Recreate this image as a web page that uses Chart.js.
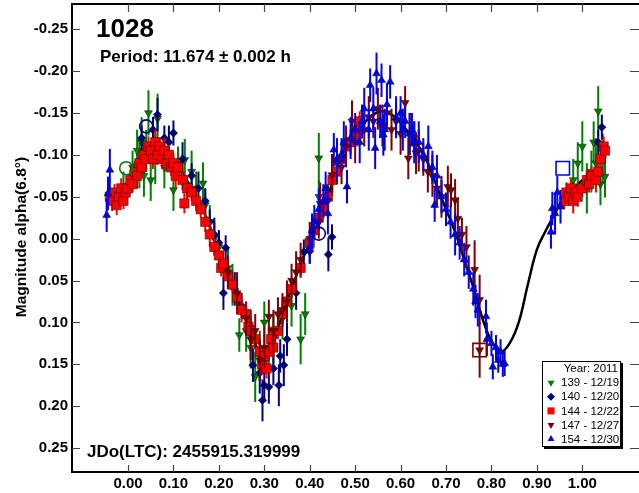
<!DOCTYPE html>
<html>
<head>
<meta charset="utf-8">
<title>1028 lightcurve</title>
<script src="https://cdn.jsdelivr.net/npm/chart.js@4.4.0/dist/chart.umd.min.js"></script>
<style>
  html, body { margin: 0; padding: 0; background: #fff; }
  canvas { display: block; }
</style>
</head>
<body>
<canvas id="lc" width="639" height="493"></canvas>
<script>
// session 139 - 12/19
const phase139 = [-0.01, 0.01, 0.02, 0.025, 0.03, 0.035, 0.04, 0.045, 0.05, 0.06, 0.065, 0.08, 0.09, 0.10, 0.11, 0.125, 0.14, 0.15, 0.165, 0.17, 0.18, 0.19, 0.20, 0.22, 0.23, 0.245, 0.26, 0.27, 0.28, 0.29, 0.30, 0.31, 0.32, 0.34, 0.36, 0.38, 0.39, 0.42, 0.42, 0.98, 0.99, 1.00, 1.01, 1.02, 1.025, 1.03, 1.035, 1.04, 1.045, 1.05];
const mag139 = [-0.06, -0.085, -0.105, -0.09, -0.115, -0.075, -0.11, -0.15, -0.07, -0.095, -0.143, -0.085, -0.10, -0.058, -0.09, -0.094, -0.08, -0.06, -0.066, -0.04, -0.02, 0.0, 0.01, 0.035, 0.055, 0.115, 0.11, 0.13, 0.165, 0.14, 0.10, 0.13, 0.12, 0.095, 0.08, 0.12, 0.09, -0.096, -0.05, -0.07, -0.09, -0.11, -0.06, -0.08, -0.115, -0.09, -0.152, -0.065, -0.095, -0.074];
const err139 = [0.02, 0.02, 0.025, 0.03, 0.03, 0.025, 0.02, 0.027, 0.025, 0.03, 0.03, 0.025, 0.02, 0.025, 0.02, 0.025, 0.025, 0.02, 0.025, 0.02, 0.02, 0.02, 0.02, 0.025, 0.025, 0.02, 0.025, 0.025, 0.03, 0.03, 0.025, 0.025, 0.03, 0.025, 0.025, 0.03, 0.025, 0.03, 0.02, 0.025, 0.025, 0.03, 0.03, 0.025, 0.025, 0.03, 0.03, 0.025, 0.03, 0.025];

// session 140 - 12/20
const phase140 = [0.03, 0.055, 0.065, 0.08, 0.09, 0.10, 0.12, 0.14, 0.155, 0.17, 0.18, 0.19, 0.20, 0.21, 0.215, 0.235, 0.25, 0.27, 0.275, 0.29, 0.296, 0.30, 0.31, 0.32, 0.332, 0.335, 0.343, 0.35, 0.37, 0.387, 0.40, 0.441, 0.449, 1.035, 1.043];
const mag140 = [-0.12, -0.13, -0.148, -0.12, -0.115, -0.126, -0.095, -0.075, -0.06, -0.045, -0.02, -0.005, 0.005, 0.065, 0.011, 0.06, 0.08, 0.105, 0.151, 0.16, 0.193, 0.175, 0.177, 0.155, 0.175, 0.14, 0.151, 0.12, 0.065, 0.016, 0.015, 0.019, -0.002, -0.115, -0.133];
const err140 = [0.015, 0.015, 0.02, 0.015, 0.02, 0.015, 0.02, 0.015, 0.02, 0.015, 0.015, 0.02, 0.015, 0.02, 0.015, 0.02, 0.015, 0.02, 0.02, 0.025, 0.025, 0.02, 0.02, 0.02, 0.025, 0.02, 0.025, 0.02, 0.02, 0.015, 0.015, 0.02, 0.015, 0.015, 0.015];

// session 144 - 12/22
const phase144 = [-0.04, -0.035, -0.03, -0.025, -0.02, -0.015, -0.01, -0.005, 0.0, 0.005,
  0.01, 0.015, 0.02, 0.025, 0.03, 0.035, 0.04, 0.045, 0.05, 0.055,
  0.06, 0.065, 0.07, 0.075, 0.08, 0.085, 0.09, 0.095, 0.10, 0.105,
  0.11, 0.12, 0.124, 0.13, 0.14, 0.15, 0.16, 0.17, 0.18, 0.19,
  0.20, 0.205, 0.21, 0.22, 0.23, 0.24, 0.25, 0.26, 0.265, 0.27,
  0.28, 0.29, 0.295, 0.30, 0.305, 0.31, 0.315, 0.32, 0.33, 0.34,
  0.35, 0.36, 0.38, 0.40, 0.41, 0.42, 0.43, 0.44, 0.45, 0.46,
  0.47, 0.48, 0.49, 0.50, 0.505, 0.51,
  0.96, 0.965, 0.97, 0.975, 0.98, 0.985, 0.99, 1.00, 1.01, 1.015, 1.02, 1.03, 1.035, 1.04, 1.047, 1.05];
const mag144 = [-0.05, -0.045, -0.055, -0.04, -0.05, -0.06, -0.045, -0.055, -0.06, -0.07,
  -0.065, -0.08, -0.075, -0.09, -0.085, -0.10, -0.095, -0.11, -0.105, -0.095,
  -0.115, -0.10, -0.11, -0.095, -0.105, -0.09, -0.10, -0.085, -0.09, -0.075,
  -0.085, -0.07, -0.042, -0.06, -0.055, -0.045, -0.035, -0.02, -0.005, 0.01,
  0.02, 0.035, 0.03, 0.045, 0.055, 0.07, 0.085, 0.09, 0.105, 0.11,
  0.12, 0.135, 0.15, 0.14, 0.155, 0.135, 0.12, 0.13, 0.11, 0.09,
  0.075, 0.06, 0.035, 0.005, -0.01, -0.025, -0.035, -0.05, -0.07, -0.08,
  -0.095, -0.11, -0.115, -0.13, -0.125, -0.14,
  -0.045, -0.055, -0.05, -0.06, -0.045, -0.055, -0.05, -0.06, -0.07, -0.065, -0.075, -0.07, -0.08, -0.095, -0.11, -0.105];
const err144 = [0.010, 0.012, 0.010, 0.012, 0.010, 0.012, 0.010, 0.012, 0.010, 0.012,
  0.010, 0.012, 0.015, 0.010, 0.012, 0.010, 0.015, 0.012, 0.010, 0.012,
  0.015, 0.012, 0.010, 0.012, 0.015, 0.010, 0.012, 0.010, 0.012, 0.015,
  0.010, 0.012, 0.012, 0.015, 0.010, 0.012, 0.010, 0.012, 0.015, 0.010,
  0.012, 0.010, 0.015, 0.012, 0.010, 0.012, 0.015, 0.010, 0.012, 0.015,
  0.012, 0.015, 0.012, 0.015, 0.012, 0.010, 0.015, 0.012, 0.010, 0.012,
  0.015, 0.010, 0.012, 0.010, 0.012, 0.015, 0.010, 0.012, 0.015, 0.012,
  0.010, 0.012, 0.015, 0.012, 0.015, 0.012,
  0.010, 0.012, 0.010, 0.012, 0.015, 0.010, 0.012, 0.010, 0.012, 0.010, 0.012, 0.015, 0.010, 0.012, 0.012, 0.010];

// session 147 - 12/27
const phase147 = [0.22, 0.24, 0.26, 0.27, 0.28, 0.29, 0.30, 0.31, 0.32, 0.33,
  0.34, 0.35, 0.36, 0.37, 0.38, 0.40, 0.42, 0.423, 0.44, 0.449,
  0.46, 0.47, 0.48, 0.493, 0.50, 0.52, 0.53, 0.54, 0.55, 0.56,
  0.57, 0.58, 0.59, 0.60, 0.61, 0.617, 0.62, 0.63, 0.634, 0.64,
  0.65, 0.66, 0.67, 0.68, 0.69, 0.704, 0.711, 0.72, 0.726, 0.735,
  0.745, 0.763, 0.774, 0.774];
const mag147 = [0.04, 0.065, 0.095, 0.12, 0.11, 0.145, 0.13, 0.093, 0.11, 0.09,
  0.085, 0.075, 0.05, 0.04, 0.025, 0.0, -0.02, -0.042, -0.045, -0.076,
  -0.09, -0.085, -0.11, -0.14, -0.115, -0.13, -0.145, -0.14, -0.155, -0.135,
  -0.15, -0.13, -0.14, -0.125, -0.162, -0.096, -0.125, -0.12, -0.102, -0.105,
  -0.095, -0.08, -0.075, -0.06, -0.05, -0.062, -0.058, -0.046, -0.024, -0.005,
  0.01, 0.037, 0.073, 0.133];
const err147 = [0.02, 0.025, 0.02, 0.025, 0.02, 0.025, 0.025, 0.02, 0.025, 0.02,
  0.02, 0.025, 0.02, 0.025, 0.02, 0.02, 0.02, 0.025, 0.02, 0.025,
  0.025, 0.02, 0.025, 0.025, 0.025, 0.02, 0.025, 0.02, 0.025, 0.025,
  0.02, 0.025, 0.02, 0.025, 0.02, 0.025, 0.025, 0.02, 0.025, 0.025,
  0.02, 0.025, 0.025, 0.02, 0.025, 0.025, 0.02, 0.025, 0.025, 0.02,
  0.025, 0.035, 0.03, 0.033];

// session 154 - 12/30
const phase154 = [-0.047, -0.044, -0.04, 0.40, 0.405, 0.41, 0.42, 0.43, 0.435, 0.44,
  0.453, 0.46, 0.47, 0.475, 0.482, 0.49, 0.50, 0.51, 0.515, 0.52,
  0.53, 0.533, 0.54, 0.544, 0.547, 0.555, 0.558, 0.562, 0.565, 0.57,
  0.577, 0.59, 0.60, 0.605, 0.61, 0.62, 0.625, 0.63, 0.64, 0.65,
  0.661, 0.67, 0.675, 0.68, 0.69, 0.70, 0.71, 0.72, 0.73, 0.74,
  0.75, 0.76, 0.765, 0.77, 0.788, 0.79, 0.80, 0.803, 0.81, 0.815,
  0.82, 0.825, 0.829, 0.931, 0.934, 0.94, 0.945, 0.952];
const mag154 = [-0.028, -0.054, -0.082, 0.01, -0.01, -0.02, -0.035, -0.045, -0.06, -0.03,
  -0.106, -0.095, -0.10, -0.115, -0.062, -0.12, -0.13, -0.115, -0.14, -0.155,
  -0.13, -0.183, -0.155, -0.108, -0.197, -0.14, -0.189, -0.124, -0.13, -0.16,
  -0.187, -0.145, -0.15, -0.13, -0.14, -0.125, -0.13, -0.115, -0.115, -0.10,
  -0.11, -0.085, -0.04, -0.075, -0.05, -0.035, -0.02, -0.005, 0.005, 0.025,
  0.04, 0.06, 0.075, 0.085, 0.093, 0.12, 0.125, 0.153, 0.13, 0.145,
  0.135, 0.15, 0.149, -0.008, -0.036, -0.03, -0.055, -0.038];
const err154 = [0.02, 0.02, 0.025, 0.02, 0.02, 0.02, 0.025, 0.02, 0.02, 0.025,
  0.02, 0.025, 0.02, 0.025, 0.02, 0.025, 0.02, 0.025, 0.02, 0.025,
  0.025, 0.02, 0.025, 0.025, 0.025, 0.02, 0.02, 0.025, 0.025, 0.025,
  0.02, 0.025, 0.02, 0.025, 0.02, 0.025, 0.02, 0.025, 0.025, 0.02,
  0.025, 0.02, 0.02, 0.025, 0.02, 0.02, 0.02, 0.025, 0.02, 0.02,
  0.02, 0.02, 0.02, 0.02, 0.02, 0.02, 0.015, 0.015, 0.015, 0.015,
  0.015, 0.015, 0.015, 0.02, 0.02, 0.025, 0.02, 0.02];

// Fourier fit
const fitPhase = [0.00, 0.02, 0.04, 0.06, 0.08, 0.10, 0.12, 0.14, 0.16, 0.18, 0.20, 0.22, 0.24, 0.26, 0.28, 0.30, 0.32, 0.34, 0.36, 0.38, 0.40, 0.42, 0.44, 0.46, 0.48, 0.50, 0.52, 0.54, 0.56, 0.58, 0.60, 0.62, 0.64, 0.66, 0.68, 0.70, 0.72, 0.74, 0.76, 0.78, 0.80, 0.82, 0.84, 0.86, 0.88, 0.90, 0.92, 0.94, 0.96, 0.98, 1.00];
const fitMag = [-0.07, -0.095, -0.108, -0.112, -0.105, -0.095, -0.078, -0.06, -0.04, -0.015, 0.018, 0.045, 0.072, 0.098, 0.125, 0.148, 0.125, 0.09, 0.06, 0.03, 0.005, -0.02, -0.05, -0.085, -0.11, -0.125, -0.138, -0.148, -0.152, -0.148, -0.138, -0.125, -0.11, -0.09, -0.062, -0.035, -0.008, 0.025, 0.058, 0.095, 0.122, 0.135, 0.125, 0.1, 0.055, 0.013, -0.01, -0.03, -0.05, -0.06, -0.07];

// first points of sessions (open markers), session index into sessions below
const startPhase = [-0.004, 0.04, 0.42, 0.774, 0.957];
const startMag = [-0.084, -0.134, -0.006, 0.133, -0.084];
const startSession = [0, 1, 1, 3, 4];

const sessionLabels = ['139 - 12/19', '140 - 12/20', '144 - 12/22', '147 - 12/27', '154 - 12/30'];
const xTicks = [0, 0.1, 0.2, 0.3, 0.4, 0.5, 0.6, 0.7, 0.8, 0.9, 1.0];
const yTicks = [-0.25, -0.2, -0.15, -0.1, -0.05, 0, 0.05, 0.1, 0.15, 0.2, 0.25];

const FONT = '"Liberation Sans", Arial, sans-serif';

const sessions = [
  { p: phase139, m: mag139, e: err139, color: '#008000', style: 'triangle', rot: 180, r: 4.6, order: 5 },
  { p: phase140, m: mag140, e: err140, color: '#000080', style: 'rectRot', rot: 0, r: 4.2, order: 4 },
  { p: phase144, m: mag144, e: err144, color: '#ff0000', style: 'rect', rot: 0, r: 6.6, order: 3 },
  { p: phase147, m: mag147, e: err147, color: '#800000', style: 'triangle', rot: 180, r: 4.6, order: 2 },
  { p: phase154, m: mag154, e: err154, color: '#0000ff', style: 'triangle', rot: 0, r: 4.6, order: 1 }
];

const datasets = sessions.map((s, i) => ({
  label: sessionLabels[i],
  data: s.p.map((x, j) => ({ x: x, y: s.m[j] })),
  errors: s.e,
  backgroundColor: s.color,
  borderColor: 'rgba(0,0,0,0.55)',
  borderWidth: 0.8,
  pointStyle: s.style,
  pointRotation: s.rot,
  pointRadius: s.r,
  order: s.order
}));

datasets.push({
  label: 'fit',
  type: 'line',
  data: fitPhase.map((x, j) => ({ x: x, y: fitMag[j] })),
  borderColor: '#000',
  borderWidth: 2.5,
  pointRadius: 0,
  tension: 0.4,
  fill: false,
  order: 10
});

datasets.push({
  label: 'start',
  data: startPhase.map((x, j) => ({ x: x, y: startMag[j] })),
  backgroundColor: 'rgba(0,0,0,0)',
  borderColor: startSession.map(k => sessions[k].color),
  borderWidth: 1.6,
  pointStyle: startSession.map(k => k < 2 ? 'circle' : 'rect'),
  pointRadius: startSession.map(k => k < 2 ? 6.5 : 9.5),
  order: 0
});

const errorBars = {
  id: 'errorBars',
  beforeDatasetDraw(chart, args) {
    const ds = chart.data.datasets[args.index];
    if (!ds.errors) return;
    const { ctx, chartArea: a } = chart;
    const y = chart.scales.y;
    ctx.save();
    ctx.beginPath();
    ctx.rect(a.left, a.top, a.right - a.left, a.bottom - a.top);
    ctx.clip();
    ctx.strokeStyle = ds.backgroundColor;
    ctx.lineWidth = 2;
    args.meta.data.forEach((pt, i) => {
      const v = ds.data[i].y, e = ds.errors[i] || 0;
      ctx.beginPath();
      ctx.moveTo(pt.x, y.getPixelForValue(v - e));
      ctx.lineTo(pt.x, y.getPixelForValue(v + e));
      ctx.stroke();
    });
    ctx.restore();
  }
};

const decor = {
  id: 'decor',
  afterDraw(chart) {
    const { ctx, chartArea: a, scales: { x, y } } = chart;
    ctx.save();
    // frame
    ctx.strokeStyle = '#000';
    ctx.lineWidth = 2;
    ctx.beginPath();
    ctx.moveTo(a.right + 2, a.top);
    ctx.lineTo(a.left, a.top);
    ctx.lineTo(a.left, a.bottom);
    ctx.lineTo(a.right + 2, a.bottom);
    ctx.stroke();
    // inward ticks
    ctx.strokeStyle = '#444';
    ctx.lineWidth = 1.2;
    ctx.beginPath();
    xTicks.forEach(v => {
      const px = Math.round(x.getPixelForValue(v)) + 0.5;
      ctx.moveTo(px, a.top); ctx.lineTo(px, a.top + 8);
      ctx.moveTo(px, a.bottom); ctx.lineTo(px, a.bottom - 7);
    });
    yTicks.forEach(v => {
      const py = Math.round(y.getPixelForValue(v)) + 0.5;
      ctx.moveTo(a.left, py); ctx.lineTo(a.left + 8, py);
      ctx.moveTo(a.right, py); ctx.lineTo(a.right - 9, py);
    });
    ctx.stroke();

    // texts
    ctx.fillStyle = '#000';
    ctx.textAlign = 'left';
    ctx.textBaseline = 'alphabetic';
    ctx.font = 'bold 26px ' + FONT;
    ctx.fillText('1028', 96, 37);
    ctx.font = 'bold 17px ' + FONT;
    ctx.fillText('Period: 11.674 \u00b1 0.002 h', 100, 62);
    ctx.fillText('JDo(LTC): 2455915.319999', 87, 457);

    // y title
    ctx.save();
    ctx.translate(26, 237);
    ctx.rotate(-Math.PI / 2);
    ctx.textAlign = 'center';
    ctx.font = 'bold 15.5px ' + FONT;
    ctx.fillText('Magnitude alpha(6.8\u00b0)', 0, 0);
    ctx.restore();

    // legend box
    const L = 542, T = 361, W = 79, H = 86;
    ctx.fillStyle = '#000';
    ctx.fillRect(L + 2, T + 2, W, H);
    ctx.fillStyle = '#fff';
    ctx.fillRect(L, T, W, H);
    ctx.strokeStyle = '#000';
    ctx.lineWidth = 1;
    ctx.strokeRect(L + 0.5, T + 0.5, W - 1, H - 1);
    ctx.fillStyle = '#000';
    ctx.font = '11.5px ' + FONT;
    ctx.textBaseline = 'middle';
    ctx.textAlign = 'right';
    ctx.fillText('Year: 2011', 618, 368.5);
    ctx.textAlign = 'left';
    sessions.forEach((s, i) => {
      const ry = 382.7 + i * 14.1;
      ctx.fillStyle = s.color;
      ctx.strokeStyle = s.color;
      Chart.helpers.drawPoint(ctx, { pointStyle: s.style, radius: s.style === 'rect' ? 5 : 4, rotation: s.rot, borderWidth: 0 }, 551, ry);
      ctx.fillStyle = '#000';
      ctx.fillText(sessionLabels[i], 561, ry + 0.5);
    });
    ctx.restore();
  }
};

new Chart(document.getElementById('lc'), {
  type: 'scatter',
  data: { datasets: datasets },
  options: {
    responsive: false,
    animation: false,
    layout: { autoPadding: false, padding: { top: 4, right: -3, left: 0, bottom: 0 } },
    plugins: {
      legend: { display: false },
      tooltip: { enabled: false }
    },
    scales: {
      x: {
        type: 'linear',
        min: -0.1233,
        max: 1.1248,
        grid: { display: false, drawTicks: false },
        border: { display: false },
        afterBuildTicks: s => { s.ticks = xTicks.map(v => ({ value: v })); },
        afterFit: s => { s.height = 21; s.paddingLeft = 0; s.paddingRight = 0; },
        ticks: {
          padding: 3,
          color: '#000',
          font: { family: FONT, size: 15, weight: 'bold' },
          callback: v => v.toFixed(2)
        }
      },
      y: {
        type: 'linear',
        reverse: true,
        min: -0.28,
        max: 0.2785,
        grid: { display: false, drawTicks: false },
        border: { display: false },
        afterBuildTicks: s => { s.ticks = yTicks.map(v => ({ value: v })); },
        afterFit: s => { s.width = 72; s.paddingTop = 0; s.paddingBottom = 0; },
        ticks: {
          padding: 4,
          color: '#000',
          font: { family: FONT, size: 15, weight: 'bold' },
          callback: v => v.toFixed(2)
        }
      }
    }
  },
  plugins: [errorBars, decor]
});
</script>
</body>
</html>
